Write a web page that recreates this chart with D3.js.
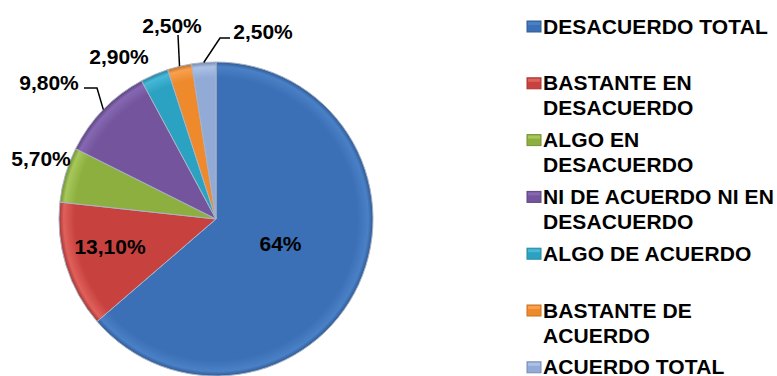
<!DOCTYPE html>
<html><head><meta charset="utf-8">
<script src="https://cdn.jsdelivr.net/npm/d3@7"></script>
<style>
html,body{margin:0;padding:0;background:#fff;}
svg{display:block;}
text{font-family:"Liberation Sans",Arial,sans-serif;font-weight:bold;fill:#000;}
</style></head>
<body>
<svg id="chart" width="777" height="376"></svg>
<script>
const categories = ["DESACUERDO TOTAL","BASTANTE EN DESACUERDO","ALGO EN DESACUERDO","NI DE ACUERDO NI EN DESACUERDO","ALGO DE ACUERDO","BASTANTE DE ACUERDO","ACUERDO TOTAL"];
const legendLines = [["DESACUERDO TOTAL"],["BASTANTE EN","DESACUERDO"],["ALGO EN","DESACUERDO"],["NI DE ACUERDO NI EN","DESACUERDO"],["ALGO DE ACUERDO"],["BASTANTE DE","ACUERDO"],["ACUERDO TOTAL"]];
const values = [64, 13.1, 5.7, 9.8, 2.9, 2.5, 2.5];
const valueLabels = ["64%","13,10%","5,70%","9,80%","2,90%","2,50%","2,50%"];

const colors = ["#3B70B6","#C7423F","#8DAF3F","#73549D","#2CA2C2","#EE8A2B","#91AAD6"];
const lightColors = ["#4A80C6","#E0605B","#A6C85A","#8668B2","#47B8D6","#F7A050","#ABC2E6"];

const svg = d3.select("#chart");
const cx = 216, cy = 219, R = 157;

const pie = d3.pie().sort(null).value(d => d)(values);
const arc = d3.arc().innerRadius(0).outerRadius(R);

const defs = svg.append("defs");
colors.forEach((c,i) => {
  const g = defs.append("radialGradient").attr("id","g"+i)
    .attr("gradientUnits","userSpaceOnUse")
    .attr("cx",0).attr("cy",0).attr("r",R);
  g.append("stop").attr("offset","0%").attr("stop-color",c);
  g.append("stop").attr("offset","90%").attr("stop-color",c);
  g.append("stop").attr("offset","97%").attr("stop-color",lightColors[i]);
  g.append("stop").attr("offset","100%").attr("stop-color",d3.color(c).darker(0.6));
});

const gPie = svg.append("g").attr("transform",`translate(${cx},${cy})`);
gPie.selectAll("path").data(pie).join("path")
  .attr("d",arc)
  .attr("fill",(d,i)=>`url(#g${i})`)
  .attr("stroke","#a9b3c6").attr("stroke-width",1);

// inner labels
const innerR = [71, 111];
[0,1].forEach(i => {
  const a = (pie[i].startAngle + pie[i].endAngle)/2;
  const x = Math.sin(a)*innerR[i], y = -Math.cos(a)*innerR[i] - 5;
  gPie.append("text").attr("x",x).attr("y",y).attr("text-anchor","middle")
    .attr("dominant-baseline","central").attr("font-size",21).text(valueLabels[i]);
});

// outside labels: label center offsets (relative to pie centre) and leader bend points
const outLayout = [
  null, null,
  {lx:-175, ly:-61, bend:null},
  {lx:-167, ly:-137, bend:[[-132,-131],[-119,-131]]},
  {lx:-97, ly:-163, bend:null},
  {lx:-44, ly:-194, bend:[[-38,-184]]},
  {lx:47, ly:-188, bend:[[14,-181],[4,-181]]}
];
outLayout.forEach((L,i) => {
  if(!L) return;
  const a = (pie[i].startAngle + pie[i].endAngle)/2;
  if(L.bend){
    const end = [Math.sin(a)*R, -Math.cos(a)*R];
    const pts = L.bend.concat([end]);
    gPie.append("path").attr("d", d3.line()(pts))
      .attr("fill","none").attr("stroke","#000").attr("stroke-width",1.5);
  }
  gPie.append("text").attr("x",L.lx).attr("y",L.ly).attr("text-anchor","middle")
    .attr("dominant-baseline","central").attr("font-size",21).text(valueLabels[i]);
});

// legend
const lg = svg.append("g");
legendLines.forEach((lines,i) => {
  const y0 = 26 + i*56.8;
  lg.append("rect").attr("x",527).attr("y",y0-5).attr("width",14).attr("height",11)
    .attr("fill",colors[i]).attr("stroke",d3.color(colors[i]).darker(0.5)).attr("stroke-width",1);
  lg.append("rect").attr("x",528).attr("y",y0-4).attr("width",12).attr("height",3)
    .attr("fill",lightColors[i]);
  lines.forEach((t,j) => {
    lg.append("text").attr("x",543).attr("y",y0 + j*25).attr("dominant-baseline","central")
      .attr("font-size",21).attr("letter-spacing",0.1).text(t);
  });
});
</script>
</body></html>
